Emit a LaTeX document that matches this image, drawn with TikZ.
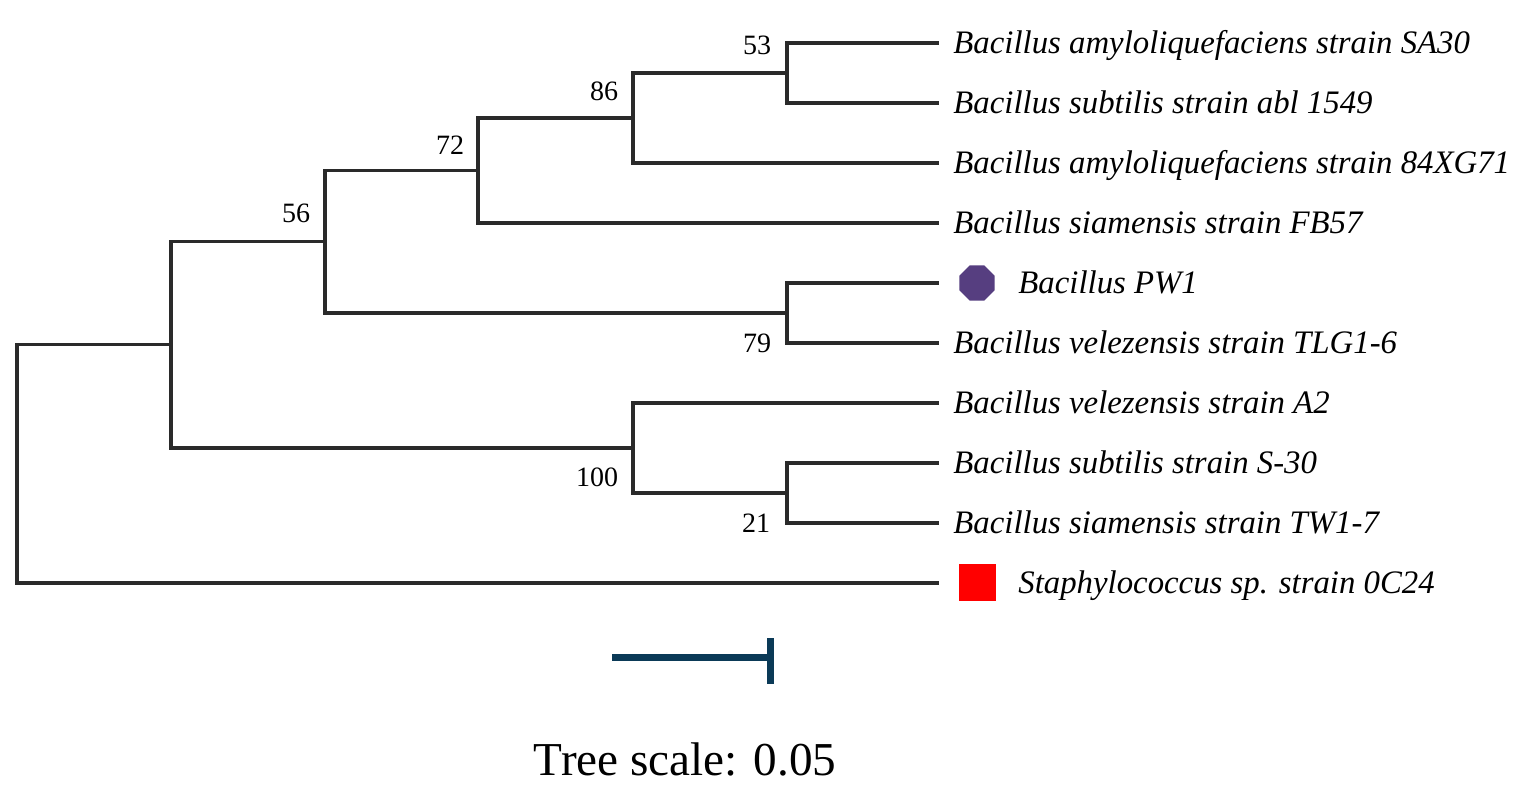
\documentclass[tikz,border=0pt]{standalone}
\usepackage{fontspec}
\setmainfont{Liberation Serif}
\usetikzlibrary{shapes.geometric}
\definecolor{treeline}{HTML}{2A2A2A}
\definecolor{barblue}{HTML}{0B3A57}
\definecolor{pwpurple}{HTML}{563E80}
\begin{document}
\begin{tikzpicture}[x=0.5pt,y=-0.5pt,
  branch/.style={draw=treeline,line width=1.8pt,line join=miter},
  leaflabel/.style={anchor=base west,inner sep=0pt,font=\fontsize{16.4pt}{18pt}\selectfont\itshape},
  boot/.style={anchor=center,inner sep=0pt,font=\fontsize{14pt}{16pt}\selectfont},
  scalebar/.style={draw=barblue,line width=3.5pt}]
\useasboundingbox[fill=white] (0,0) rectangle (1532,804);
% leaves
\coordinate (l1) at (939,43);
\coordinate (l2) at (939,103);
\coordinate (l3) at (939,163);
\coordinate (l4) at (939,223);
\coordinate (l5) at (939,283);
\coordinate (l6) at (939,343);
\coordinate (l7) at (939,403);
\coordinate (l8) at (939,463);
\coordinate (l9) at (939,523);
\coordinate (l10) at (939,583);
% internal nodes
\coordinate (n53) at (787,73);
\coordinate (n86) at (633,118);
\coordinate (n72) at (478,170.5);
\coordinate (n79) at (787,313);
\coordinate (n56) at (325,241.5);
\coordinate (n21) at (787,493);
\coordinate (n100) at (633,448);
\coordinate (nb) at (171,344.5);
\coordinate (root) at (17,463.5);
% branches
\draw[branch] (n53) |- (l1);
\draw[branch] (n53) |- (l2);
\draw[branch] (n86) |- (n53);
\draw[branch] (n86) |- (l3);
\draw[branch] (n72) |- (n86);
\draw[branch] (n72) |- (l4);
\draw[branch] (n79) |- (l5);
\draw[branch] (n79) |- (l6);
\draw[branch] (n56) |- (n72);
\draw[branch] (n56) |- (n79);
\draw[branch] (n21) |- (l8);
\draw[branch] (n21) |- (l9);
\draw[branch] (n100) |- (l7);
\draw[branch] (n100) |- (n21);
\draw[branch] (nb) |- (n56);
\draw[branch] (nb) |- (n100);
\draw[branch] (root) |- (nb);
\draw[branch] (root) |- (l10);
% bootstrap values
\node[boot] (b53) at (757,45) {53};
\node[boot] (b86) at (604,91) {86};
\node[boot] (b72) at (450,145) {72};
\node[boot] (b56) at (296,213) {56};
\node[boot] (b79) at (757,343) {79};
\node[boot] (b100) at (597,477) {100};
\node[boot] (b21) at (756,523) {21};
% leaf labels
\node[leaflabel] (t1) at (953,53.7) {Bacillus amyloliquefaciens strain SA30};
\node[leaflabel] (t2) at (953,113.7) {Bacillus subtilis strain abl 1549};
\node[leaflabel] (t3) at (953,173.7) {Bacillus amyloliquefaciens strain 84XG71};
\node[leaflabel] (t4) at (953,233.7) {Bacillus siamensis strain FB57};
\node[regular polygon,regular polygon sides=8,fill=pwpurple,inner sep=0pt,minimum size=19pt] (oct) at (977,283) {};
\node[leaflabel] (t5) at (1018,293.7) {Bacillus PW1};
\node[leaflabel] (t6) at (953,353.7) {Bacillus velezensis strain TLG1-6};
\node[leaflabel] (t7) at (953,413.7) {Bacillus velezensis strain A2};
\node[leaflabel] (t8) at (953,473.7) {Bacillus subtilis strain S-30};
\node[leaflabel] (t9) at (953,533.7) {Bacillus siamensis strain TW1-7};
\node[rectangle,fill=red,inner sep=0pt,minimum size=18.5pt] (sq) at (977.5,582.5) {};
\node[leaflabel] (t10) at (1018,593.7) {Staphylococcus sp. strain 0C24};
% scale bar
\coordinate (sb1) at (612,657);
\coordinate (sb2) at (770,657);
\coordinate (sbt) at (770,638);
\coordinate (sbb) at (770,684);
\draw[scalebar] (sb1) -- (sb2);
\draw[scalebar] (sbt) -- (sbb);
\node[anchor=base,inner sep=0pt,font=\fontsize{23.6pt}{26pt}\selectfont] (ts) at (685,775) {Tree scale: 0.05};
\end{tikzpicture}
\end{document}
